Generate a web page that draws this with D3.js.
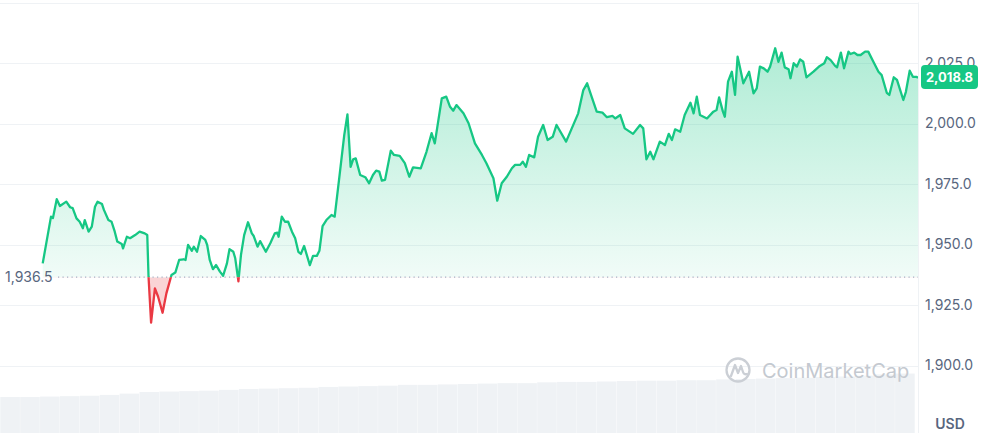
<!DOCTYPE html>
<html>
<head>
<meta charset="utf-8">
<script src="https://cdn.jsdelivr.net/npm/d3@7"></script>
<style>
  body { margin: 0; background: #fff; }
  svg { display: block; font-family: Inter, "Noto Sans", sans-serif; }
</style>
</head>
<body>
<div id="chart"></div>
<script>
// minutes since start of the 24h window
const times = [67, 80, 83, 89, 94, 104, 110, 114, 120, 125, 130, 133, 139, 144, 149, 153, 160, 163, 170, 175,
  180, 184, 191, 193, 199, 204, 212, 219, 227, 231, 233, 237, 243, 248, 255, 261, 269, 275, 281, 288,
  291, 295, 301, 304, 309, 315, 322, 325, 329, 334, 339, 345, 350, 356, 360, 366, 369, 374, 378, 383,
  389, 395, 398, 404, 408, 417, 424, 431, 435, 437, 442, 447, 452, 458, 463, 468, 472, 477, 486, 491,
  497, 501, 506, 512, 520, 525, 533, 540, 545, 550, 554, 558, 565, 573, 579, 585, 590, 595, 599, 604,
  613, 618, 627, 635, 642, 648, 660, 669, 677, 682, 693, 700, 706, 711, 716, 727, 735, 745, 756, 763,
  774, 780, 787, 795, 803, 808, 816, 820, 825, 830, 838, 844, 852, 859, 867, 873, 888, 907, 915, 921,
  928, 936, 945, 952, 961, 965, 973, 980, 993, 1004, 1009, 1014, 1020, 1025, 1035, 1043, 1049, 1054, 1059, 1067,
  1074, 1083, 1088, 1093, 1098, 1109, 1119, 1124, 1128, 1134, 1137, 1142, 1148, 1153, 1157, 1161, 1166, 1175, 1182, 1187,
  1192, 1198, 1204, 1208, 1216, 1221, 1226, 1231, 1237, 1240, 1245, 1250, 1255, 1260, 1265, 1276, 1286, 1293, 1297, 1303,
  1310, 1313, 1319, 1324, 1331, 1334, 1340, 1345, 1350, 1357, 1362, 1370, 1378, 1383, 1391, 1395, 1402, 1407, 1417, 1421,
  1427, 1432, 1438, 1440];

// price in USD
const prices = [1942.2, 1961.5, 1960.9, 1968.7, 1965.9, 1967.7, 1965.4, 1965.0, 1960.8, 1959.4, 1956.7, 1960.1, 1955.3, 1957.4, 1965.6, 1967.7, 1966.7, 1964.3, 1960.1, 1959.4,
  1955.3, 1951.2, 1950.2, 1948.4, 1953.2, 1952.6, 1953.9, 1955.3, 1954.6, 1953.9, 1936.7, 1917.7, 1931.9, 1928.4, 1921.8, 1929.8, 1937.4, 1938.4, 1943.6, 1943.9,
  1943.6, 1949.8, 1947.4, 1949.1, 1947.0, 1953.5, 1951.9, 1949.8, 1943.6, 1939.8, 1941.5, 1938.8, 1937.1, 1942.2, 1948.1, 1947.0, 1944.3, 1934.8, 1945.7, 1953.9,
  1959.2, 1954.6, 1953.5, 1949.1, 1951.4, 1947.0, 1950.5, 1954.6, 1954.9, 1953.2, 1961.5, 1959.4, 1959.4, 1955.3, 1952.6, 1947.0, 1946.1, 1949.4, 1941.5, 1945.3,
  1945.3, 1947.4, 1957.6, 1960.1, 1962.2, 1961.5, 1979.4, 1995.2, 2003.8, 1982.1, 1985.2, 1985.6, 1978.7, 1977.8, 1975.3, 1978.7, 1980.5, 1980.1, 1976.4, 1976.7,
  1988.8, 1987.0, 1986.6, 1983.6, 1978.0, 1981.9, 1981.5, 1988.3, 1996.0, 1991.8, 2010.4, 2011.1, 2006.9, 2005.3, 2007.6, 2004.2, 2000.1, 1991.8, 1987.0, 1983.6,
  1977.4, 1968.1, 1975.3, 1978.0, 1981.5, 1982.9, 1982.9, 1984.2, 1982.1, 1987.0, 1986.0, 1994.5, 1999.4, 1993.2, 1994.5, 1999.4, 1992.5, 2004.2, 2013.8, 2016.6,
  2011.1, 2004.9, 2004.5, 2002.6, 2003.1, 2002.1, 2003.5, 1998.0, 1995.7, 1999.4, 1998.0, 1985.2, 1988.3, 1985.2, 1992.5, 1991.1, 1995.7, 1993.2, 1997.6, 1996.6,
  2003.5, 2008.6, 2004.2, 2011.1, 2003.5, 2002.1, 2004.9, 2005.6, 2010.8, 2004.9, 2002.8, 2017.3, 2021.4, 2011.8, 2027.6, 2022.8, 2016.6, 2021.4, 2012.5, 2014.5,
  2023.5, 2022.8, 2021.4, 2023.5, 2031.1, 2025.5, 2029.3, 2023.2, 2022.4, 2018.7, 2024.9, 2023.5, 2026.5, 2025.5, 2019.1, 2021.4, 2023.8, 2024.9, 2027.4, 2026.2,
  2023.8, 2023.2, 2029.3, 2022.8, 2029.7, 2028.7, 2029.3, 2028.3, 2028.3, 2029.7, 2029.7, 2025.5, 2021.4, 2020.0, 2012.7, 2011.8, 2019.1, 2018.0, 2009.7, 2013.1,
  2021.8, 2019.3, 2019.3, 2018.8];

const baseline = 1936.5;
const lastPrice = 2018.8;
const gridTicks = [1900, 1925, 1950, 1975, 2000, 2025, 2050];
const labelTicks = [1900, 1925, 1950, 1975, 2000, 2025];

// volume (billions USD), one bar per segment of the window
const volumes = [8.6, 8.6, 8.7, 8.8, 8.9, 9.1, 9.4, 9.8, 9.9, 10.0, 10.1, 10.3, 10.5, 10.6, 10.7, 10.8, 11.0, 11.1, 11.2, 11.3,
  11.5, 11.5, 11.6, 11.7, 11.8, 11.9, 11.9, 12.1, 12.2, 12.2, 12.3, 12.4, 12.5, 12.5, 12.6, 12.6, 12.8, 12.9, 13.0, 13.1,
  13.2, 13.4, 13.5, 13.7, 14.0, 14.2];

const W = 986, H = 433, plotRight = 918;
const green = "#16c784", red = "#ea3943", axisGrey = "#58667e";

const svg = d3.select("#chart").append("svg").attr("width", W).attr("height", H);

const x = d3.scaleLinear().domain([0, 1440]).range([0, plotRight]);
const y = d3.scaleLinear().domain([1900, 2050]).range([365.5, 2.5]);
const vol = d3.scaleLinear().domain([0, 16]).range([H, 366]);
const vx = d3.scaleBand().domain(d3.range(volumes.length)).range([0, plotRight - 3]).padding(0.015);

const data = times.map((t, i) => ({ t, p: prices[i] }));

// defs
const defs = svg.append("defs");
const grad = defs.append("linearGradient").attr("id", "greenFill")
  .attr("gradientUnits", "userSpaceOnUse")
  .attr("x1", 0).attr("x2", 0).attr("y1", y(2031)).attr("y2", y(baseline));
grad.append("stop").attr("offset", 0).attr("stop-color", green).attr("stop-opacity", 0.34);
grad.append("stop").attr("offset", 1).attr("stop-color", green).attr("stop-opacity", 0.06);

defs.append("clipPath").attr("id", "above")
  .append("rect").attr("x", 0).attr("y", 0).attr("width", plotRight).attr("height", y(baseline));
defs.append("clipPath").attr("id", "below")
  .append("rect").attr("x", 0).attr("y", y(baseline)).attr("width", plotRight).attr("height", H - y(baseline));

// grid lines
svg.append("g")
  .selectAll("line")
  .data(gridTicks)
  .join("line")
  .attr("x1", 0).attr("x2", plotRight)
  .attr("y1", d => Math.round(y(d)) + 0.5).attr("y2", d => Math.round(y(d)) + 0.5)
  .attr("stroke", "#eff2f5").attr("stroke-width", 1);

// right border of plot
svg.append("line")
  .attr("x1", plotRight + 0.5).attr("x2", plotRight + 0.5)
  .attr("y1", y(2050)).attr("y2", H)
  .attr("stroke", "#eff2f5");

// volume bars
svg.append("g")
  .selectAll("rect")
  .data(volumes)
  .join("rect")
  .attr("x", (d, i) => vx(i))
  .attr("width", vx.bandwidth())
  .attr("y", d => vol(d))
  .attr("height", d => H - vol(d))
  .attr("fill", "#eff2f5");

// watermark
const wm = svg.append("g").attr("transform", "translate(738,370)");
wm.append("circle").attr("r", 11.5).attr("fill", "none").attr("stroke", "#cbcfd5").attr("stroke-width", 2.3);
wm.append("path")
  .attr("d", "M-7,6 L-3,-5 L0,3 L3,-4 L5,2 Q6,5 9,4")
  .attr("fill", "none").attr("stroke", "#cbcfd5").attr("stroke-width", 2.3)
  .attr("stroke-linejoin", "round").attr("stroke-linecap", "round");
svg.append("text")
  .attr("x", 762).attr("y", 378)
  .attr("font-size", 20).attr("font-weight", 400)
  .attr("fill", "#c4c9d0")
  .text("CoinMarketCap");

// areas between line and baseline
const area = d3.area().x(d => x(d.t)).y0(y(baseline)).y1(d => y(d.p));
svg.append("path").datum(data).attr("d", area)
  .attr("fill", "url(#greenFill)").attr("clip-path", "url(#above)");
svg.append("path").datum(data).attr("d", area)
  .attr("fill", red).attr("fill-opacity", 0.22).attr("clip-path", "url(#below)");

// baseline (opening price)
svg.append("line")
  .attr("x1", 58).attr("x2", plotRight)
  .attr("y1", y(baseline)).attr("y2", y(baseline))
  .attr("stroke", "#a6b0c3").attr("stroke-width", 1.2).attr("stroke-dasharray", "1.2,3.3");
svg.append("text")
  .attr("x", 5).attr("y", y(baseline)).attr("dy", "0.35em")
  .attr("font-size", 14).attr("fill", axisGrey)
  .text(d3.format(",.1f")(baseline));

// price line
const line = d3.line().x(d => x(d.t)).y(d => y(d.p));
svg.append("path").datum(data).attr("d", line)
  .attr("fill", "none").attr("stroke", green).attr("stroke-width", 2.3)
  .attr("stroke-linejoin", "round").attr("clip-path", "url(#above)");
svg.append("path").datum(data).attr("d", line)
  .attr("fill", "none").attr("stroke", red).attr("stroke-width", 2.3)
  .attr("stroke-linejoin", "round").attr("clip-path", "url(#below)");

// right axis
const axis = svg.append("g")
  .attr("transform", `translate(${plotRight + 7},0)`)
  .call(d3.axisRight(y).tickValues(labelTicks).tickFormat(d3.format(",.1f")).tickSize(0));
axis.select(".domain").remove();
axis.selectAll("text")
  .attr("x", 0)
  .attr("font-family", "Inter, 'Noto Sans', sans-serif")
  .attr("font-size", 14).attr("fill", axisGrey);

svg.append("text")
  .attr("x", 950).attr("y", 424).attr("dy", "0.35em").attr("text-anchor", "middle")
  .attr("font-size", 14).attr("font-weight", 600).attr("fill", axisGrey)
  .text("USD");

// last price tag
const tag = svg.append("g").attr("transform", `translate(921,${y(lastPrice)})`);
tag.append("rect")
  .attr("x", 0).attr("y", -13).attr("width", 57).attr("height", 24).attr("rx", 4)
  .attr("fill", green);
tag.append("text")
  .attr("x", 28.5).attr("y", -1).attr("dy", "0.35em").attr("text-anchor", "middle")
  .attr("font-size", 13).attr("font-weight", 700).attr("fill", "#fff")
  .text(d3.format(",.1f")(lastPrice));
</script>
</body>
</html>
